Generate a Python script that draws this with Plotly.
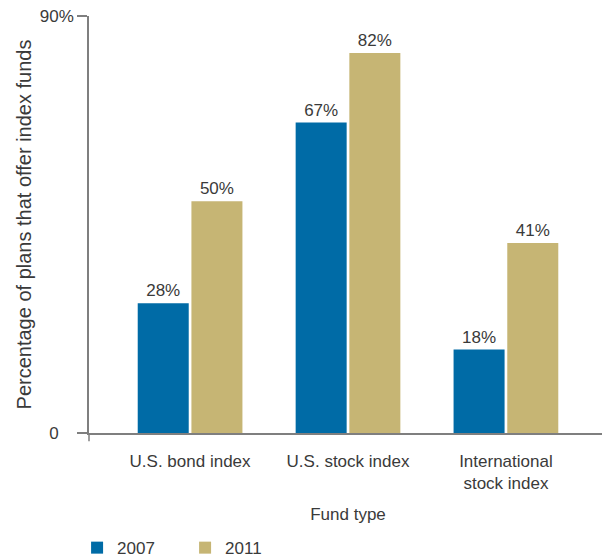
import plotly.graph_objects as go

# Data
fund_types = ['U.S. bond index', 'U.S. stock index', 'International<br>stock index']
share_2007 = [28, 67, 18]
share_2011 = [50, 82, 41]
years = ['2007', '2011']
y_tick_vals = [0, 90]
# the "0" label in the reference sits where "0%" would, so pad it with a hidden %
y_tick_text = ['0<span style="color:white">%</span>', '90%']

colors = {'2007': '#006BA6', '2011': '#C6B574'}
text_color = '#3A3A3A'
axis_color = '#7F7F7F'
font_family = 'Liberation Sans, Arial, sans-serif'

fig = go.Figure()

for year, values in zip(years, [share_2007, share_2011]):
    fig.add_trace(go.Bar(
        name=year,
        x=list(range(len(fund_types))),
        y=values,
        marker=dict(color=colors[year], line=dict(width=0)),
        text=[f'{v}%' for v in values],
        textposition='outside',
        textfont=dict(size=17, color=text_color),
        cliponaxis=False,
    ))

# page body adds an 8px offset, margins below are set to compensate
fig.update_layout(
    width=610, height=560,
    barmode='group',
    bargap=0.32,
    bargroupgap=0.05,
    plot_bgcolor='white',
    paper_bgcolor='white',
    margin=dict(l=81, r=11, t=8, b=135, autoexpand=False),
    font=dict(family=font_family, size=17, color=text_color),
    showlegend=True,
    legend=dict(
        orientation='h',
        x=-0.023, xanchor='left',
        y=-0.276, yanchor='middle',
        font=dict(size=17, color=text_color),
        itemwidth=30,
        entrywidth=63,
        entrywidthmode='pixels',
        traceorder='normal',
    ),
    # small downward tick at the axis corner
    shapes=[dict(type='line', xref='paper', yref='paper',
                 x0=0, x1=0, y0=0, y1=-0.02,
                 line=dict(color=axis_color, width=1.5))],
)

fig.update_xaxes(
    range=[-0.64, 2.64],
    tickvals=list(range(len(fund_types))),
    ticktext=fund_types,
    ticks='outside', ticklen=12, tickcolor='white',
    showgrid=False,
    showline=True, linecolor=axis_color, linewidth=1.5,
    tickfont=dict(size=17, color=text_color),
    title=dict(text='Fund type', font=dict(size=17, color=text_color), standoff=16),
)

fig.update_yaxes(
    range=[0, 90],
    tickvals=y_tick_vals,
    ticktext=y_tick_text,
    ticklabeloverflow='allow',
    ticks='outside', ticklen=10, tickcolor=axis_color, tickwidth=1.5,
    showgrid=False, zeroline=False,
    showline=True, linecolor=axis_color, linewidth=1.5,
    tickfont=dict(size=17, color=text_color),
    title=dict(text='Percentage of plans that offer index funds',
               font=dict(size=20, color=text_color), standoff=3),
)

fig.write_html('out.html')
